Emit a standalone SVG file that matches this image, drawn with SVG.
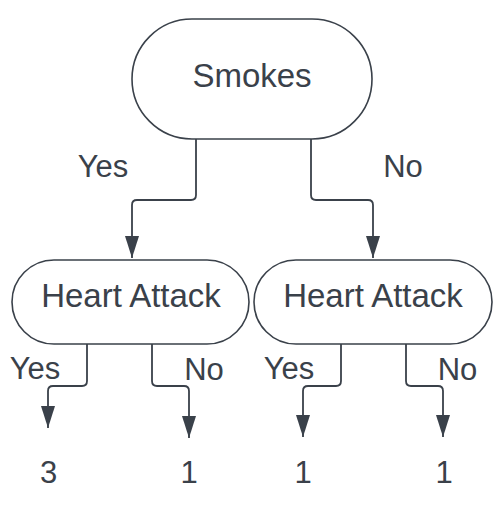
<svg xmlns="http://www.w3.org/2000/svg" width="502" height="514" viewBox="0 0 502 514">
  <style>
    .node { fill: #ffffff; stroke: #3a414a; stroke-width: 1.6; }
    .ntext { font-family: "Liberation Sans", Arial, sans-serif; font-size: 33px; fill: #3a414a; text-anchor: middle; }
    .label { font-family: "Liberation Sans", Arial, sans-serif; font-size: 31px; fill: #3a414a; text-anchor: middle; }
    .edge { fill: none; stroke: #3a414a; stroke-width: 1.8; marker-end: url(#arrow); }
  </style>
  <defs>
    <marker id="arrow" markerUnits="userSpaceOnUse" markerWidth="22" markerHeight="14" refX="22" refY="7" orient="auto">
      <path d="M0,0 L22,7 L0,14 z" fill="#3a414a"/>
    </marker>
  </defs>
  <rect width="502" height="514" fill="#ffffff"/>
  <g id="connectors">
    <path class="edge" d="M196,139 V195 Q196,200 191,200 H137 Q132,200 132,205 V258"/>
    <path class="edge" d="M311,139 V195 Q311,200 316,200 H368 Q373,200 373,205 V258"/>
    <path class="edge" d="M87,344 V381 Q87,386 82,386 H53 Q48,386 48,391 V428"/>
    <path class="edge" d="M152,344 V381 Q152,386 157,386 H184 Q189,386 189,391 V438"/>
    <path class="edge" d="M341,344 V381 Q341,386 336,386 H308 Q303,386 303,391 V437"/>
    <path class="edge" d="M406,344 V381 Q406,386 411,386 H438 Q443,386 443,391 V437"/>
    <text class="label" x="103" y="177">Yes</text>
    <text class="label" x="403" y="177">No</text>
    <text class="label" x="35" y="379">Yes</text>
    <text class="label" x="204" y="380">No</text>
    <text class="label" x="289" y="379">Yes</text>
    <text class="label" x="457.5" y="380">No</text>
  </g>
  <g id="smokes">
    <rect class="node" x="132" y="19" width="240" height="120" rx="60" ry="60"/>
    <text class="ntext" x="252" y="86.5">Smokes</text>
  </g>
  <g id="heart-attack-yes">
    <rect class="node" x="12" y="260" width="237" height="84" rx="42" ry="42"/>
    <text class="ntext" x="131" y="306.5">Heart Attack</text>
  </g>
  <g id="heart-attack-no">
    <rect class="node" x="254" y="260" width="238" height="84" rx="42" ry="42"/>
    <text class="ntext" x="373" y="306.5">Heart Attack</text>
  </g>
  <g id="leaf-1">
    <text class="label" x="48.5" y="483">3</text>
  </g>
  <g id="leaf-2">
    <text class="label" x="189" y="483">1</text>
  </g>
  <g id="leaf-3">
    <text class="label" x="303" y="483">1</text>
  </g>
  <g id="leaf-4">
    <text class="label" x="444" y="483">1</text>
  </g>
</svg>
